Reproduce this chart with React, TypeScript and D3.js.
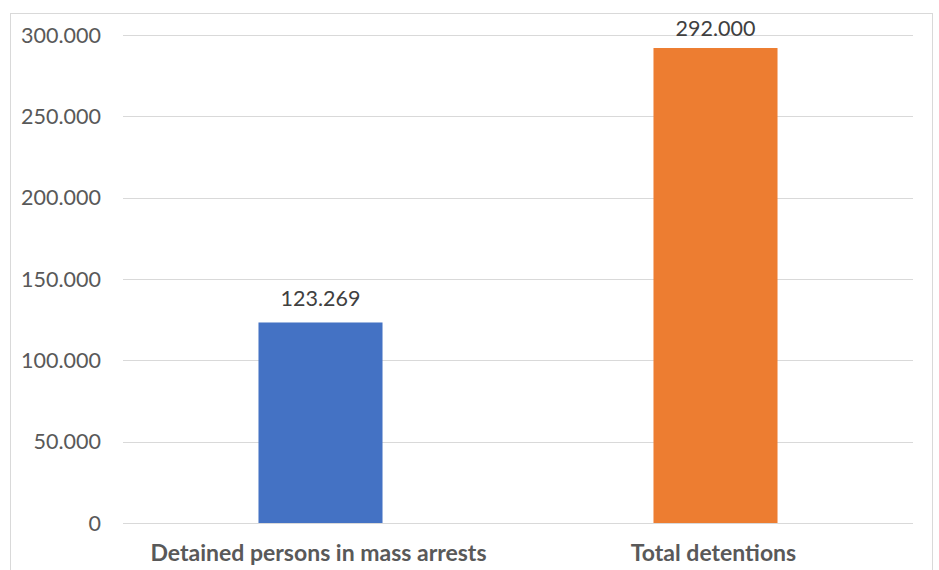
import React from "react";
import * as d3 from "d3";

const categories: string[] = ["Detained persons in mass arrests", "Total detentions"];
const values: number[] = [123269, 292000];
const barColors: string[] = ["#4472C4", "#ED7D31"];
const yTicks: number[] = [0, 50000, 100000, 150000, 200000, 250000, 300000];

const W = 939;
const H = 570;
const plot = { left: 123, right: 913, top: 35, bottom: 523 };
const labelMinY = 36;

const locale = d3.formatLocale({ decimal: ",", thousands: ".", grouping: [3], currency: ["", ""] });
const fmt = locale.format(",");

export default function App() {
  const y = d3.scaleLinear().domain([0, 300000]).range([plot.bottom, plot.top]);
  const x = d3
    .scaleBand<string>()
    .domain(categories)
    .range([plot.left, plot.right])
    .paddingInner(0.686)
    .paddingOuter(0.343);

  const font = "Lato, 'Open Sans', 'DejaVu Sans', sans-serif";

  return (
    <svg
      width={W}
      height={H}
      style={{ position: "absolute", left: 0, top: 0, background: "#fff" }}
      fontFamily={font}
    >
      <rect x={10.5} y={13.5} width={922} height={H} fill="#fff" stroke="#d9d9d9" strokeWidth={1} />
      {yTicks.map((t) => (
        <g key={t}>
          <line
            x1={plot.left}
            x2={plot.right}
            y1={Math.round(y(t)) + 0.5}
            y2={Math.round(y(t)) + 0.5}
            stroke="#d9d9d9"
            strokeWidth={1}
          />
          <text x={101} y={y(t) + 7.5} textAnchor="end" fontSize={21.5} fill="#595959">
            {fmt(t)}
          </text>
        </g>
      ))}
      {categories.map((c, i) => (
        <g key={c}>
          <rect
            x={x(c)}
            y={y(values[i])}
            width={x.bandwidth()}
            height={y(0) - y(values[i])}
            fill={barColors[i]}
          />
          <text
            x={(x(c) as number) + x.bandwidth() / 2}
            y={Math.max(y(values[i]) - 16, labelMinY)}
            textAnchor="middle"
            fontSize={21.5}
            fill="#404040"
          >
            {fmt(values[i])}
          </text>
          <text
            x={(x(c) as number) + x.bandwidth() / 2 - 2}
            y={561}
            textAnchor="middle"
            fontSize={23}
            fontWeight="bold"
            fill="#595959"
          >
            {c}
          </text>
        </g>
      ))}
    </svg>
  );
}
